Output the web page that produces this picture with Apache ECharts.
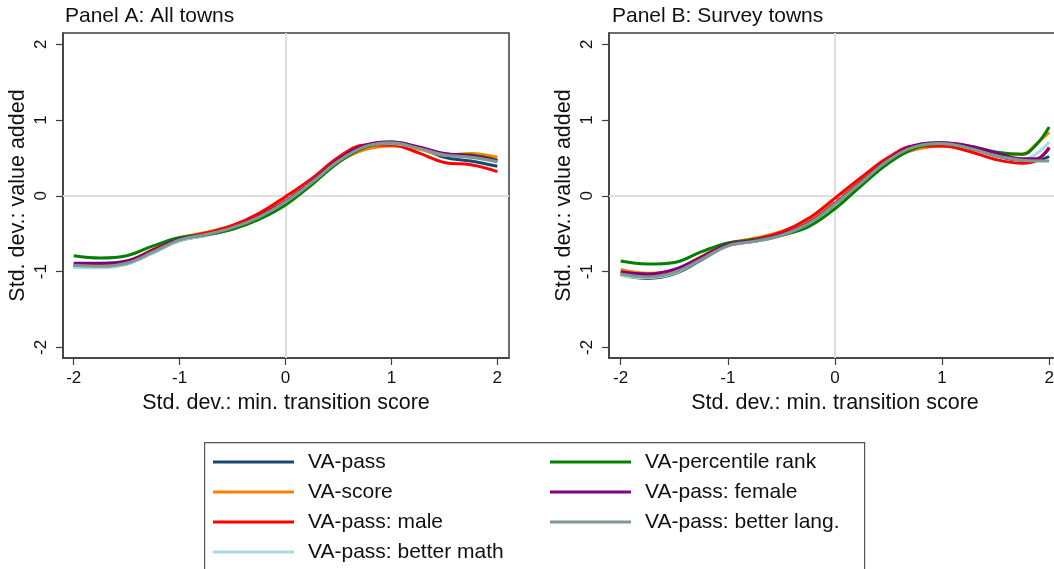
<!DOCTYPE html>
<html>
<head>
<meta charset="utf-8">
<script src="https://cdn.jsdelivr.net/npm/echarts@6.0.0/dist/echarts.min.js"></script>
<style>
  html, body { margin: 0; padding: 0; background: #ffffff; }
  #chart { width: 1054px; height: 569px; }
</style>
</head>
<body>
<div id="chart"></div>
<script>
// Standardised minimum transition score (x) at which each local fit is evaluated
const xGridA = [-2, -1.75, -1.5, -1.25, -1, -0.75, -0.5, -0.25, 0, 0.25, 0.5, 0.75, 1, 1.25, 1.5, 1.75, 2];
const xGridB = [-2, -1.75, -1.5, -1.25, -1, -0.75, -0.5, -0.25, 0, 0.25, 0.5, 0.75, 1, 1.25, 1.5, 1.75, 1.875, 2];

const seriesNames = ['VA-pass', 'VA-score', 'VA-pass: male', 'VA-pass: better math',
                     'VA-percentile rank', 'VA-pass: female', 'VA-pass: better lang.'];
const seriesColors = ['#1a476f', '#ff8000', '#ff0000', '#add8e6', '#008000', '#800080', '#7f9a8c'];

const tickValues = [-2, -1, 0, 1, 2];

// Panel A: all towns
const vaPassA       = [-0.93, -0.94, -0.90, -0.75, -0.59, -0.52, -0.43, -0.29, -0.09, 0.18, 0.47, 0.66, 0.71, 0.64, 0.51, 0.46, 0.39];
const vaScoreA      = [-0.91, -0.90, -0.86, -0.71, -0.56, -0.48, -0.39, -0.25, -0.05, 0.20, 0.45, 0.61, 0.66, 0.62, 0.54, 0.56, 0.51];
const vaMaleA       = [-0.92, -0.91, -0.87, -0.71, -0.56, -0.49, -0.39, -0.23, -0.01, 0.23, 0.51, 0.67, 0.67, 0.57, 0.44, 0.41, 0.32];
const vaMathA       = [-0.95, -0.95, -0.90, -0.75, -0.59, -0.52, -0.43, -0.28, -0.07, 0.19, 0.47, 0.65, 0.69, 0.63, 0.54, 0.51, 0.45];
const vaPctRankA    = [-0.79, -0.82, -0.79, -0.66, -0.55, -0.51, -0.44, -0.31, -0.12, 0.15, 0.44, 0.64, 0.70, 0.64, 0.55, 0.54, 0.47];
const vaFemaleA     = [-0.89, -0.89, -0.86, -0.72, -0.57, -0.51, -0.42, -0.27, -0.07, 0.19, 0.48, 0.67, 0.71, 0.65, 0.56, 0.53, 0.46];
const vaLangA       = [-0.92, -0.93, -0.89, -0.74, -0.58, -0.51, -0.42, -0.28, -0.08, 0.18, 0.46, 0.65, 0.70, 0.63, 0.54, 0.51, 0.45];

// Panel B: survey towns
const vaPassB       = [-1.04, -1.09, -1.03, -0.85, -0.66, -0.60, -0.52, -0.37, -0.11, 0.18, 0.47, 0.66, 0.70, 0.64, 0.53, 0.47, 0.47, 0.52];
const vaScoreB      = [-0.97, -1.02, -0.98, -0.80, -0.63, -0.56, -0.47, -0.32, -0.06, 0.21, 0.47, 0.61, 0.66, 0.62, 0.56, 0.55, 0.68, 0.84];
const vaMaleB       = [-1.02, -1.05, -1.00, -0.82, -0.64, -0.57, -0.48, -0.30, -0.03, 0.25, 0.51, 0.66, 0.66, 0.59, 0.48, 0.43, 0.46, 0.64];
const vaMathB       = [-1.05, -1.08, -1.02, -0.84, -0.66, -0.60, -0.52, -0.37, -0.10, 0.18, 0.47, 0.65, 0.69, 0.64, 0.54, 0.48, 0.55, 0.71];
const vaPctRankB    = [-0.86, -0.90, -0.88, -0.74, -0.62, -0.58, -0.52, -0.41, -0.17, 0.14, 0.43, 0.63, 0.69, 0.66, 0.58, 0.55, 0.67, 0.91];
const vaFemaleB     = [-1.00, -1.03, -0.97, -0.81, -0.64, -0.59, -0.51, -0.36, -0.10, 0.19, 0.48, 0.67, 0.70, 0.66, 0.57, 0.49, 0.49, 0.63];
const vaLangB       = [-1.03, -1.07, -1.01, -0.84, -0.66, -0.60, -0.52, -0.37, -0.11, 0.18, 0.47, 0.65, 0.69, 0.63, 0.53, 0.47, 0.46, 0.46];

const panelA = [vaPassA, vaScoreA, vaMaleA, vaMathA, vaPctRankA, vaFemaleA, vaLangA];
const panelB = [vaPassB, vaScoreB, vaMaleB, vaMathB, vaPctRankB, vaFemaleB, vaLangB];

const FONT = '"Liberation Sans", Arial, Helvetica, sans-serif';
const INK = '#111111';
const AXIS = '#3c3c3c';

function pairs(xs, ys) {
  return xs.map((x, i) => [x, ys[i]]);
}

function xAxisFor(gridIndex, min, max) {
  return {
    type: 'value', gridIndex, min, max,
    name: 'Std. dev.: min. transition score',
    nameLocation: 'middle', nameGap: 31,
    nameTextStyle: { fontFamily: FONT, fontSize: 21.5, color: INK },
    axisLine: { show: true, onZero: false, lineStyle: { color: AXIS, width: 1.5 } },
    axisTick: { show: true, length: 7, customValues: tickValues, lineStyle: { color: AXIS, width: 1.2 } },
    axisLabel: { customValues: tickValues, fontFamily: FONT, fontSize: 17, color: INK, margin: 12 },
    splitLine: { show: false }
  };
}

function yAxisFor(gridIndex) {
  return {
    type: 'value', gridIndex, min: -2.14, max: 2.15,
    name: 'Std. dev.: value added',
    nameLocation: 'middle', nameGap: 34,
    nameTextStyle: { fontFamily: FONT, fontSize: 21.5, color: INK },
    axisLine: { show: true, onZero: false, lineStyle: { color: AXIS, width: 1.5 } },
    axisTick: { show: true, length: 7, customValues: tickValues, lineStyle: { color: AXIS, width: 1.2 } },
    axisLabel: { customValues: tickValues, rotate: 90, fontFamily: FONT, fontSize: 17, color: INK, margin: 13 },
    splitLine: { show: false }
  };
}

function zeroLines(gridIndex) {
  return {
    type: 'line', xAxisIndex: gridIndex, yAxisIndex: gridIndex,
    data: [], silent: true, z: 1,
    markLine: {
      silent: true, symbol: 'none', animation: false,
      label: { show: false },
      lineStyle: { color: '#dedede', width: 2, type: 'solid' },
      data: [{ xAxis: 0 }, { yAxis: 0 }]
    }
  };
}

function fitSeries(gridIndex, xs, panel) {
  return panel.map((ys, i) => ({
    type: 'line', name: seriesNames[i],
    xAxisIndex: gridIndex, yAxisIndex: gridIndex,
    data: pairs(xs, ys),
    smooth: 0.4, symbol: 'none', z: 3 + i,
    lineStyle: { color: seriesColors[i], width: 3 },
    itemStyle: { color: seriesColors[i] },
    emphasis: { disabled: true }
  }));
}

const legendText = { fontFamily: FONT, fontSize: 21, color: INK, lineHeight: 22, padding: [0, 0, 0, 9] };

const option = {
  animation: false,
  backgroundColor: '#ffffff',
  title: [
    { text: 'Panel A: All towns', left: 65, top: 6, padding: 0,
      textStyle: { fontFamily: FONT, fontSize: 21, fontWeight: 'normal', color: INK } },
    { text: 'Panel B: Survey towns', left: 612, top: 6, padding: 0,
      textStyle: { fontFamily: FONT, fontSize: 21, fontWeight: 'normal', color: INK } }
  ],
  grid: [
    { left: 63, top: 33, width: 446, height: 325, outerBoundsMode: 'none', containLabel: false,
      show: true, borderColor: AXIS, borderWidth: 1.5, backgroundColor: 'transparent' },
    { left: 609, top: 33, width: 452, height: 325, outerBoundsMode: 'none', containLabel: false,
      show: true, borderColor: AXIS, borderWidth: 1.5, backgroundColor: 'transparent' }
  ],
  xAxis: [xAxisFor(0, -2.101, 2.11), xAxisFor(1, -2.109, 2.11)],
  yAxis: [yAxisFor(0), yAxisFor(1)],
  legend: [
    { orient: 'vertical', left: 213, top: 451, padding: 0, itemGap: 8,
      icon: 'rect', itemWidth: 81, itemHeight: 3, selectedMode: false,
      textStyle: legendText,
      data: seriesNames.slice(0, 4) },
    { orient: 'vertical', left: 550, top: 451, padding: 0, itemGap: 8,
      icon: 'rect', itemWidth: 81, itemHeight: 3, selectedMode: false,
      textStyle: legendText,
      data: seriesNames.slice(4) }
  ],
  graphic: [
    { type: 'rect', left: 204, top: 442, z: 0, silent: true,
      shape: { width: 660, height: 140 },
      style: { fill: '#ffffff', stroke: '#555555', lineWidth: 1.2 } }
  ],
  series: [
    zeroLines(0), zeroLines(1),
    ...fitSeries(0, xGridA, panelA),
    ...fitSeries(1, xGridB, panelB)
  ]
};

const chart = echarts.init(document.getElementById('chart'), null, { renderer: 'canvas' });
chart.setOption(option);
</script>
</body>
</html>
